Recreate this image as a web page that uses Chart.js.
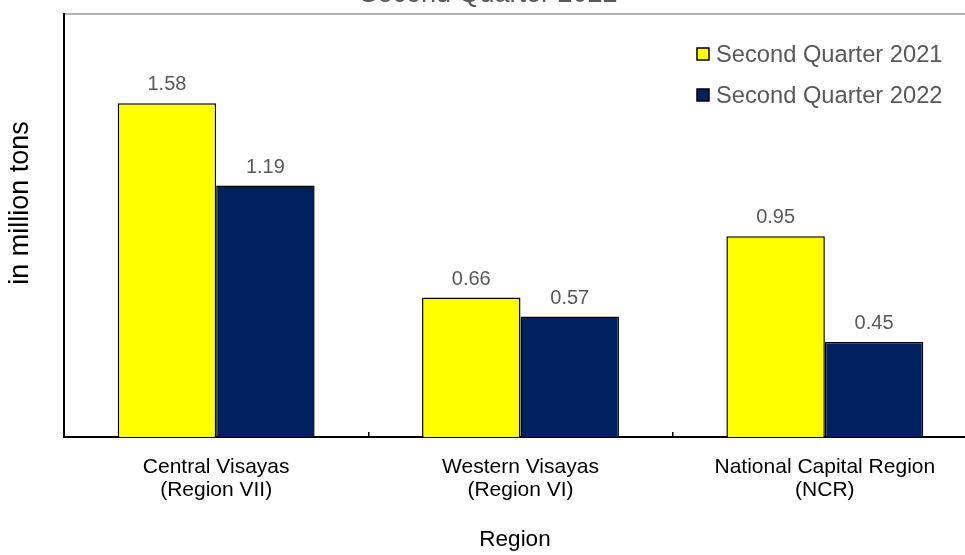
<!DOCTYPE html>
<html>
<head>
<meta charset="utf-8">
<script src="https://cdn.jsdelivr.net/npm/chart.js@4/dist/chart.umd.min.js"></script>
<style>
  html, body { margin: 0; padding: 0; background: #ffffff; }
  #frame { position: relative; width: 965px; height: 555px; overflow: hidden; background: #ffffff; }
  #chart { position: absolute; left: 0; top: -22px; }
</style>
</head>
<body>
<div id="frame"><canvas id="chart" width="980" height="577"></canvas></div>
<script>
// Regions (two-line category labels)
const regions = [
  ['Central Visayas', '(Region VII)'],
  ['Western Visayas', '(Region VI)'],
  ['National Capital Region', '(NCR)']
];
// Volume in million tons
const q2_2021 = [1.58, 0.66, 0.95];
const q2_2022 = [1.19, 0.57, 0.45];
const seriesNames = ['Second Quarter 2021', 'Second Quarter 2022'];
const chartTitle = 'Second Quarter 2022';
const yTitle = 'in million tons';
const xTitle = 'Region';

const FONT = "'Liberation Sans', Arial, Helvetica, sans-serif";
const GREY_TEXT = '#595959';

// Value labels above each bar
const valueLabels = {
  id: 'valueLabels',
  afterDatasetsDraw(chart) {
    const ctx = chart.ctx;
    ctx.save();
    ctx.font = '20px ' + FONT;
    ctx.fillStyle = GREY_TEXT;
    ctx.textAlign = 'center';
    ctx.textBaseline = 'alphabetic';
    chart.data.datasets.forEach((ds, i) => {
      chart.getDatasetMeta(i).data.forEach((bar, j) => {
        ctx.fillText(ds.data[j].toFixed(2), bar.x, bar.y - 13);
      });
    });
    ctx.restore();
  }
};

// Legend drawn inside the plot, upper right
const innerLegend = {
  id: 'innerLegend',
  afterDraw(chart) {
    const ctx = chart.ctx;
    const x = 697, y0 = 76, step = 41, box = 12;
    ctx.save();
    ctx.font = '23.7px ' + FONT;
    ctx.textBaseline = 'middle';
    ctx.textAlign = 'left';
    chart.data.datasets.forEach((ds, i) => {
      const y = y0 + i * step;
      ctx.fillStyle = ds.backgroundColor;
      ctx.fillRect(x, y - box / 2, box, box);
      ctx.lineWidth = 1.5;
      ctx.strokeStyle = '#000000';
      ctx.strokeRect(x, y - box / 2, box, box);
      ctx.fillStyle = GREY_TEXT;
      ctx.fillText(ds.label, x + 19, y + 1);
    });
    ctx.restore();
  }
};

// Axis titles: rotated value-axis title and the category-axis title
const axisTitles = {
  id: 'axisTitles',
  afterDraw(chart) {
    const ctx = chart.ctx;
    ctx.save();
    ctx.fillStyle = '#000000';
    ctx.textAlign = 'center';
    ctx.textBaseline = 'middle';
    ctx.font = '22.5px ' + FONT;
    ctx.fillText(xTitle, 515, 562);
    ctx.translate(21, 225);
    ctx.rotate(-Math.PI / 2);
    ctx.font = '27px ' + FONT;
    ctx.fillText(yTitle, 0, 0);
    ctx.restore();
  }
};

new Chart(document.getElementById('chart'), {
  type: 'bar',
  data: {
    labels: regions,
    datasets: [
      {
        label: seriesNames[0],
        data: q2_2021,
        backgroundColor: '#FFFF00',
        borderColor: '#000000',
        borderWidth: 1.5,
        categoryPercentage: 0.647,
        barPercentage: 1.0
      },
      {
        label: seriesNames[1],
        data: q2_2022,
        backgroundColor: '#002060',
        borderColor: '#000000',
        borderWidth: 1.5,
        categoryPercentage: 0.647,
        barPercentage: 1.0
      }
    ]
  },
  options: {
    responsive: false,
    animation: false,
    devicePixelRatio: 1,
    layout: { padding: { left: 0, right: 3, top: 0, bottom: 0 } },
    plugins: {
      legend: { display: false },
      tooltip: { enabled: false },
      title: {
        display: true,
        text: chartTitle,
        color: GREY_TEXT,
        font: { family: FONT, size: 27, weight: 'normal', lineHeight: 1.2 },
        padding: { top: 0, bottom: 4 }
      }
    },
    scales: {
      x: {
        position: 'bottom',
        grid: {
          display: true,
          drawOnChartArea: false,
          drawTicks: true,
          tickLength: -5,
          color: '#000000',
          lineWidth: 1.5,
          offset: true
        },
        border: { display: true, color: '#000000', width: 2 },
        ticks: {
          color: '#000000',
          font: { family: FONT, size: 21, lineHeight: 1.1 },
          padding: 23.5,
          maxRotation: 0,
          autoSkip: false
        },
        title: { display: false },
        afterFit(scale) { scale.height = 118; }
      },
      x2: {
        type: 'category',
        position: 'top',
        display: true,
        grid: { display: false, drawTicks: false },
        ticks: { display: false },
        border: { display: true, color: '#b3b3b3', width: 2 },
        afterFit(scale) { scale.height = 0; }
      },
      y: {
        min: 0,
        max: 2,
        grid: { display: false, drawTicks: false },
        ticks: { display: false },
        border: { display: true, color: '#000000', width: 2 },
        afterFit(scale) { scale.width = 64; }
      }
    }
  },
  plugins: [valueLabels, innerLegend, axisTitles]
});
</script>
</body>
</html>
